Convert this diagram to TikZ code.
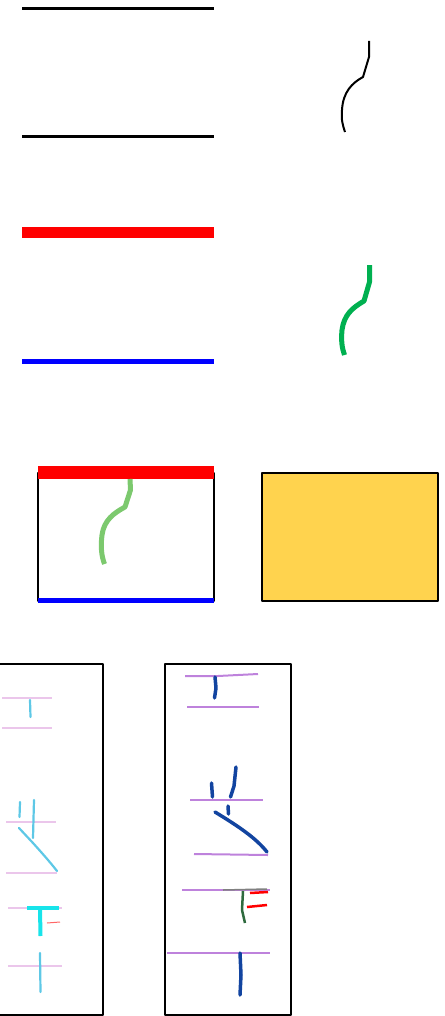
\documentclass[tikz,border=0pt]{standalone}
\begin{document}
\begin{tikzpicture}[x=1pt,y=-1pt,line join=round,
  blk/.style={line width=2.2pt,black},
  pen/.style={line width=2.5pt,line cap=round},
  fpink/.style={line width=1.2pt,color=fadedpink},
  fcyan/.style={line width=2.2pt,color=fadedcyan,line cap=round},
  purp/.style={line width=2pt,color=lilac},
  navy/.style={line width=3.5pt,color=navyblue,line cap=round}]
\definecolor{greenA}{HTML}{00B050}
\definecolor{greenB}{HTML}{7CC96E}
\definecolor{gold}{HTML}{FFD34E}
\definecolor{fadedpink}{HTML}{EBC6EB}
\definecolor{fadedcyan}{HTML}{5EC8E6}
\definecolor{brightcyan}{HTML}{18E4EA}
\definecolor{lilac}{HTML}{BE82DC}
\definecolor{navyblue}{HTML}{1244A0}
\definecolor{darkgreen}{HTML}{2E6A3E}
\useasboundingbox (0,0) rectangle (444,1016);
% top black lines
\coordinate (a1) at (22,8.5); \coordinate (a2) at (214,8.5);
\coordinate (b1) at (22,136.5); \coordinate (b2) at (214,136.5);
\draw[blk] (a1) -- (a2);
\draw[blk] (b1) -- (b2);
% black curve
\draw[line width=2pt] (369,41) -- (369,57) -- (363,77) .. controls (352,83) and (343,92) .. (342,110) .. controls (341,120) and (343,126) .. (345,132);
% red and blue lines
\coordinate (r1) at (22,232.5); \coordinate (r2) at (214,232.5);
\coordinate (u1) at (22,361); \coordinate (u2) at (214,361);
\draw[red,line width=10pt] (r1) -- (r2);
\draw[blue,line width=5pt] (u1) -- (u2);
% green curve
\draw[greenA,line width=5pt] (369.5,265) -- (369.5,282) -- (364,301) .. controls (352,308) and (344,315) .. (342,330) .. controls (341,341) and (342,348) .. (344.5,355);
% combined box
\draw[line width=2pt] (38,472.7) rectangle (214,600.7);
\draw[red,line width=13pt] (38,472.7) -- (214,472.7);
\draw[blue,line width=5pt] (38,600.8) -- (214,600.8);
\draw[greenB,line width=5pt] (130,479) -- (130.5,490) -- (125,507) .. controls (114,513) and (104,520) .. (102,535) .. controls (100.5,547) and (101.5,556) .. (104.5,564);
% gold box
\draw[line width=2pt,fill=gold] (262,472.7) rectangle (437.5,601);
% left panel
\draw[line width=2pt] (-2,664) rectangle (102.5,1015);
\draw[fpink] (2,698) -- (52,698);
\draw[fpink] (2,728) -- (52,728);
\draw[fcyan] (30,700) -- (30.5,717);
\draw[fpink] (6,822) -- (56,822);
\draw[fpink] (6,873) -- (57,873);
\draw[fcyan] (20,802) -- (19.5,817);
\draw[fcyan] (34,800) -- (33,838);
\draw[fcyan] (19,828) -- (33,843) .. controls (42,853) and (50,862) .. (57,871);
\draw[fpink] (8,908) -- (62,908);
\draw[fpink] (8,966) -- (62,966);
\draw[brightcyan,line width=3.5pt] (27,908) -- (59,908);
\draw[brightcyan,line width=4pt] (40,909) -- (40.5,936);
\draw[red!60,line width=1pt] (47,923) -- (60,922);
\draw[fcyan] (40,953) -- (40.5,992);
% right panel
\draw[line width=2pt] (165,664) rectangle (291,1015);
\draw[purp] (185,676) -- (218,676) -- (258,674);
\draw[purp] (187,707) -- (259,707);
\draw[navy] (215,677) -- (216,688) -- (214.5,698);
\draw[purp] (190,800) -- (263,800);
\draw[purp] (194,854) -- (268,855);
\draw[navy] (211.5,783) -- (212.5,797);
\draw[navy] (236,767) -- (234,786) -- (230.5,797);
\draw[navy] (228,806) -- (228.5,814);
\draw[navy] (215,812) .. controls (238,826) and (256,838) .. (267,852);
\draw[purp] (182,890) -- (270,890);
\draw[gray,line width=1.5pt] (223,890) -- (267,889);
\draw[darkgreen,line width=2.5pt] (243,891) -- (242,910) -- (245,923);
\draw[red,line width=2.5pt] (250,893) -- (268,892);
\draw[red,line width=2.5pt] (247,907) -- (267,905);
\draw[purp] (167,953) -- (270,953);
\draw[navy] (240,953) -- (241,975) -- (240,995);
\end{tikzpicture}
\end{document}
